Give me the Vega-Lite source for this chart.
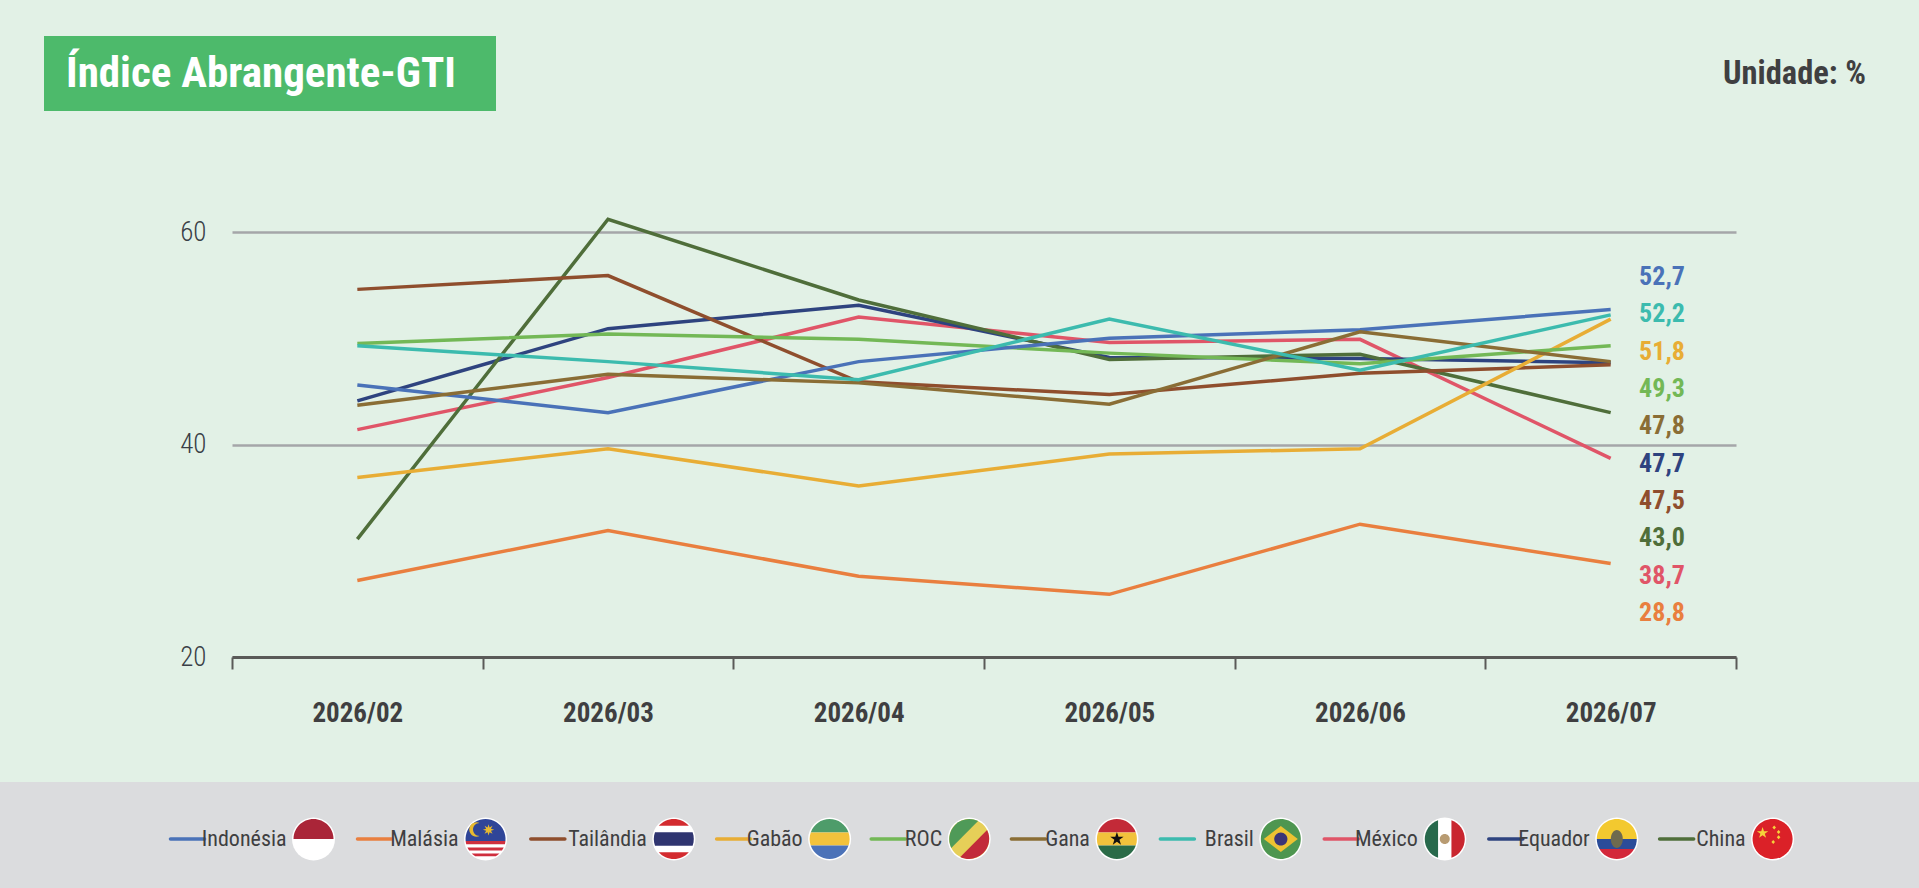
{
  "$schema": "https://vega.github.io/schema/vega-lite/v6.json",
  "autosize": {"type": "none"},
  "width": 1504,
  "height": 425,
  "padding": {"left": 232, "top": 232, "right": 183, "bottom": 231},
  "background": "#E2F1E6",
  "config": {"view": {"stroke": null}, "font": "Roboto Condensed, Roboto"},
  "datasets": {
    "indice": [
      {"mes": "2026/02", "pais": "Malásia", "valor": 27.2},
      {"mes": "2026/03", "pais": "Malásia", "valor": 31.9},
      {"mes": "2026/04", "pais": "Malásia", "valor": 27.6},
      {"mes": "2026/05", "pais": "Malásia", "valor": 25.9},
      {"mes": "2026/06", "pais": "Malásia", "valor": 32.5},
      {"mes": "2026/07", "pais": "Malásia", "valor": 28.8},
      {"mes": "2026/02", "pais": "México", "valor": 41.4},
      {"mes": "2026/03", "pais": "México", "valor": 46.3},
      {"mes": "2026/04", "pais": "México", "valor": 52.0},
      {"mes": "2026/05", "pais": "México", "valor": 49.6},
      {"mes": "2026/06", "pais": "México", "valor": 49.9},
      {"mes": "2026/07", "pais": "México", "valor": 38.7},
      {"mes": "2026/02", "pais": "Equador", "valor": 44.1},
      {"mes": "2026/03", "pais": "Equador", "valor": 50.9},
      {"mes": "2026/04", "pais": "Equador", "valor": 53.1},
      {"mes": "2026/05", "pais": "Equador", "valor": 48.2},
      {"mes": "2026/06", "pais": "Equador", "valor": 48.1},
      {"mes": "2026/07", "pais": "Equador", "valor": 47.7},
      {"mes": "2026/02", "pais": "China", "valor": 31.1},
      {"mes": "2026/03", "pais": "China", "valor": 61.2},
      {"mes": "2026/04", "pais": "China", "valor": 53.6},
      {"mes": "2026/05", "pais": "China", "valor": 48.0},
      {"mes": "2026/06", "pais": "China", "valor": 48.5},
      {"mes": "2026/07", "pais": "China", "valor": 43.0},
      {"mes": "2026/02", "pais": "Tailândia", "valor": 54.6},
      {"mes": "2026/03", "pais": "Tailândia", "valor": 55.9},
      {"mes": "2026/04", "pais": "Tailândia", "valor": 45.9},
      {"mes": "2026/05", "pais": "Tailândia", "valor": 44.7},
      {"mes": "2026/06", "pais": "Tailândia", "valor": 46.7},
      {"mes": "2026/07", "pais": "Tailândia", "valor": 47.5},
      {"mes": "2026/02", "pais": "Gabão", "valor": 36.9},
      {"mes": "2026/03", "pais": "Gabão", "valor": 39.6},
      {"mes": "2026/04", "pais": "Gabão", "valor": 36.1},
      {"mes": "2026/05", "pais": "Gabão", "valor": 39.1},
      {"mes": "2026/06", "pais": "Gabão", "valor": 39.6},
      {"mes": "2026/07", "pais": "Gabão", "valor": 51.8},
      {"mes": "2026/02", "pais": "ROC", "valor": 49.5},
      {"mes": "2026/03", "pais": "ROC", "valor": 50.4},
      {"mes": "2026/04", "pais": "ROC", "valor": 49.9},
      {"mes": "2026/05", "pais": "ROC", "valor": 48.6},
      {"mes": "2026/06", "pais": "ROC", "valor": 47.6},
      {"mes": "2026/07", "pais": "ROC", "valor": 49.3},
      {"mes": "2026/02", "pais": "Indonésia", "valor": 45.6},
      {"mes": "2026/03", "pais": "Indonésia", "valor": 43.0},
      {"mes": "2026/04", "pais": "Indonésia", "valor": 47.8},
      {"mes": "2026/05", "pais": "Indonésia", "valor": 50.0},
      {"mes": "2026/06", "pais": "Indonésia", "valor": 50.8},
      {"mes": "2026/07", "pais": "Indonésia", "valor": 52.7},
      {"mes": "2026/02", "pais": "Gana", "valor": 43.7},
      {"mes": "2026/03", "pais": "Gana", "valor": 46.6},
      {"mes": "2026/04", "pais": "Gana", "valor": 45.8},
      {"mes": "2026/05", "pais": "Gana", "valor": 43.8},
      {"mes": "2026/06", "pais": "Gana", "valor": 50.6},
      {"mes": "2026/07", "pais": "Gana", "valor": 47.8},
      {"mes": "2026/02", "pais": "Brasil", "valor": 49.3},
      {"mes": "2026/03", "pais": "Brasil", "valor": 47.8},
      {"mes": "2026/04", "pais": "Brasil", "valor": 46.1},
      {"mes": "2026/05", "pais": "Brasil", "valor": 51.8},
      {"mes": "2026/06", "pais": "Brasil", "valor": 47.0},
      {"mes": "2026/07", "pais": "Brasil", "valor": 52.2}
    ],
    "legenda": [
      {"pais": "Indonésia", "partes": ["Indonésia vermelho"]},
      {"pais": "Malásia", "partes": ["Malásia azul", "Malásia lua", "Malásia sol", "Malásia listra 1", "Malásia listra 2", "Malásia listra 3"]},
      {"pais": "Tailândia", "partes": ["Tailândia topo", "Tailândia meio", "Tailândia base"]},
      {"pais": "Gabão", "partes": ["Gabão verde", "Gabão amarelo", "Gabão azul"]},
      {"pais": "ROC", "partes": ["ROC amarelo", "ROC verde", "ROC vermelho"]},
      {"pais": "Gana", "partes": ["Gana vermelho", "Gana amarelo", "Gana verde", "Gana estrela"]},
      {"pais": "Brasil", "partes": ["Brasil verde", "Brasil losango", "Brasil globo"]},
      {"pais": "México", "partes": ["México verde", "México vermelho", "México brasão"]},
      {"pais": "Equador", "partes": ["Equador amarelo", "Equador azul", "Equador vermelho", "Equador brasão"]},
      {"pais": "China", "partes": ["China vermelho", "China estrela", "China estrelas"]}
    ]
  },
  "resolve": {"scale": {"x": "independent", "y": "independent"}},
  "layer": [
    {
      "data": {"values": [{"caixa": "rodape"}]},
      "mark": {"type": "rect", "fill": "#DBDCDE"},
      "encoding": {
        "x": {"field": "caixa", "type": "nominal", "axis": null, "scale": {"type": "band", "domain": ["rodape"], "range": [-232, 1687], "paddingInner": 0, "paddingOuter": 0}},
        "y": {"field": "caixa", "type": "nominal", "axis": null, "scale": {"type": "band", "domain": ["rodape"], "range": [550, 656], "paddingInner": 0, "paddingOuter": 0}}
      }
    },
    {
      "data": {"values": [{"caixa": "titulo"}]},
      "mark": {"type": "rect", "fill": "#4DBA6B"},
      "encoding": {
        "x": {"field": "caixa", "type": "nominal", "axis": null, "scale": {"type": "band", "domain": ["titulo"], "range": [-188, 264], "paddingInner": 0, "paddingOuter": 0}},
        "y": {"field": "caixa", "type": "nominal", "axis": null, "scale": {"type": "band", "domain": ["titulo"], "range": [-196, -121], "paddingInner": 0, "paddingOuter": 0}}
      }
    },
    {
      "data": {"values": [{"texto": "Índice Abrangente-GTI"}]},
      "mark": {"type": "text", "font": "Roboto Condensed, Roboto", "fontWeight": "bold", "fontSize": 43, "color": "#FFFFFF", "align": "center", "baseline": "middle"},
      "encoding": {
        "text": {"field": "texto"},
        "x": {"field": "texto", "type": "nominal", "axis": null, "scale": {"type": "band", "range": [-165, 223], "paddingInner": 0, "paddingOuter": 0}},
        "y": {"field": "texto", "type": "nominal", "axis": null, "scale": {"type": "band", "range": [-180, -136], "paddingInner": 0, "paddingOuter": 0}}
      }
    },
    {
      "data": {"values": [{"texto": "Unidade: %"}]},
      "mark": {"type": "text", "font": "Roboto Condensed, Roboto", "fontWeight": "bold", "fontSize": 32.5, "color": "#3F3F41", "align": "center", "baseline": "middle"},
      "encoding": {
        "text": {"field": "texto"},
        "x": {"field": "texto", "type": "nominal", "axis": null, "scale": {"type": "band", "range": [1491, 1634], "paddingInner": 0, "paddingOuter": 0}},
        "y": {"field": "texto", "type": "nominal", "axis": null, "scale": {"type": "band", "range": [-171, -145], "paddingInner": 0, "paddingOuter": 0}}
      }
    },
    {
      "data": {"name": "indice"},
      "mark": {"type": "line", "strokeWidth": 3.5, "strokeJoin": "miter"},
      "encoding": {
        "x": {
          "field": "mes",
          "type": "nominal",
          "title": null,
          "scale": {"type": "band", "paddingInner": 0, "paddingOuter": 0},
          "axis": {
            "bandPosition": 0.5,
            "tickBand": "extent",
            "labelAngle": 0,
            "labelFont": "Roboto Condensed, Roboto",
            "labelFontWeight": "bold",
            "labelFontSize": 27,
            "labelColor": "#3F3F41",
            "labelPadding": 31,
            "tickSize": 12,
            "tickWidth": 2,
            "tickColor": "#5A5A58",
            "domainColor": "#5A5A58",
            "domainWidth": 3,
            "grid": false
          }
        },
        "y": {
          "field": "valor",
          "type": "quantitative",
          "title": null,
          "scale": {"domain": [20, 60], "nice": false, "zero": false},
          "axis": {
            "values": [20, 40, 60],
            "domain": false,
            "ticks": false,
            "labelFont": "Roboto Condensed, Roboto",
            "labelFontSize": 27,
            "labelFontWeight": 300,
            "labelColor": "#3A3F47",
            "labelPadding": 26,
            "grid": true,
            "gridColor": "#A5A6A9",
            "gridWidth": 2.5
          }
        },
        "color": {
          "field": "pais",
          "type": "nominal",
          "legend": null,
          "scale": {
            "domain": ["Indonésia", "Malásia", "Tailândia", "Gabão", "ROC", "Gana", "Brasil", "México", "Equador", "China"],
            "range": ["#4A72B8", "#E97F3F", "#8F4E2D", "#E8AD35", "#73B856", "#8A6D35", "#3CBBAE", "#E05568", "#2E437F", "#4F6E3A"]
          }
        }
      }
    },
    {
      "data": {"name": "indice"},
      "transform": [
        {"filter": "datum.mes === '2026/07'"},
        {"calculate": "replace(format(datum.valor, '.1f'), '.', ',')", "as": "rotulo"}
      ],
      "mark": {"type": "text", "font": "Roboto Condensed, Roboto", "fontWeight": "bold", "fontSize": 26, "align": "center", "baseline": "middle"},
      "encoding": {
        "text": {"field": "rotulo"},
        "x": {"field": "mes", "type": "nominal", "axis": null, "scale": {"type": "band", "domain": ["2026/07"], "range": [1408, 1452], "paddingInner": 0, "paddingOuter": 0}},
        "y": {"field": "pais", "type": "nominal", "axis": null, "scale": {"type": "point", "domain": ["Indonésia", "Brasil", "Gabão", "ROC", "Gana", "Equador", "Tailândia", "China", "México", "Malásia"], "range": [45, 381], "padding": 0}},
        "color": {"field": "pais", "type": "nominal", "legend": null}
      }
    },
    {
      "data": {"name": "legenda"},
      "transform": [
        {"calculate": "length(datum.pais)", "as": "letras"},
        {"calculate": "datum.letras + 14.2", "as": "passo"},
        {"window": [{"op": "sum", "field": "passo", "as": "bandeira"}], "ignorePeers": true},
        {"calculate": "datum.bandeira - 5.1 - 0.925 * datum.letras", "as": "tracoFim"},
        {"calculate": "datum.tracoFim - 4.2", "as": "tracoInicio"}
      ],
      "encoding": {
        "y": {"datum": "legenda", "type": "nominal", "axis": null, "scale": {"type": "band", "domain": ["legenda"], "range": [552, 662], "paddingInner": 0, "paddingOuter": 0}}
      },
      "layer": [
        {
          "mark": {"type": "rule", "strokeWidth": 3.5, "strokeCap": "round"},
          "encoding": {
            "x": {"field": "tracoInicio", "type": "quantitative", "axis": null, "scale": {"domain": [23.2, 203], "range": [81.5, 1540.6], "nice": false, "zero": false}},
            "x2": {"field": "tracoFim"},
            "color": {"field": "pais", "type": "nominal", "legend": null}
          }
        },
        {
          "mark": {"type": "text", "font": "Roboto Condensed, Roboto", "fontSize": 22, "color": "#3F3F41", "align": "right", "baseline": "middle", "dx": -27},
          "encoding": {
            "text": {"field": "pais"},
            "x": {"field": "bandeira", "type": "quantitative", "axis": null}
          }
        },
        {
          "mark": {"type": "point", "shape": "circle", "filled": true, "fill": "#FFFFFF", "opacity": 1, "size": 1849, "strokeWidth": 0},
          "encoding": {
            "x": {"field": "bandeira", "type": "quantitative", "axis": null}
          }
        },
        {
          "transform": [{"flatten": ["partes"]}],
          "mark": {"type": "point", "filled": true, "opacity": 1, "size": 1600, "strokeWidth": 0},
          "encoding": {
            "x": {"field": "bandeira", "type": "quantitative", "axis": null},
            "shape": {
              "field": "partes",
              "type": "nominal",
              "legend": null,
              "scale": {
                "domain": ["Indonésia vermelho", "Malásia azul", "Malásia lua", "Malásia sol", "Malásia listra 1", "Malásia listra 2", "Malásia listra 3", "Tailândia topo", "Tailândia meio", "Tailândia base", "Gabão verde", "Gabão amarelo", "Gabão azul", "ROC amarelo", "ROC verde", "ROC vermelho", "Gana vermelho", "Gana amarelo", "Gana verde", "Gana estrela", "Brasil verde", "Brasil losango", "Brasil globo", "México verde", "México vermelho", "México brasão", "Equador amarelo", "Equador azul", "Equador vermelho", "Equador brasão", "China vermelho", "China estrela", "China estrelas"],
                "range": [
                  "M-1,0A1,1 0 0,1 1,0Z",
                  "M-.995,.1A1,1 0 1,1 .995,.1Z",
                  "M-.3,-.8A.36,.36 0 1,0 -.3,-.15A.3,.3 0 1,1 -.3,-.8Z",
                  "M.15,-.74L.2,-.58L.35,-.66L.27,-.51L.43,-.46L.27,-.41L.35,-.26L.2,-.34L.15,-.18L.1,-.34L-.05,-.26L.03,-.41L-.13,-.46L.03,-.51L-.05,-.66L.1,-.58Z",
                  "M-.995,.1A1,1 0 0,0 -.966,.26L.966,.26A1,1 0 0,0 .995,.1Z",
                  "M-.907,.42A1,1 0 0,0 -.822,.57L.822,.57A1,1 0 0,0 .907,.42Z",
                  "M-.694,.72A1,1 0 0,0 -.51,.86L.51,.86A1,1 0 0,0 .694,.72Z",
                  "M-.751,-.66A1,1 0 0,1 .751,-.66Z",
                  "M-.94,-.34A1,1 0 0,0 -.94,.34L.94,.34A1,1 0 0,0 .94,-.34Z",
                  "M.751,.66A1,1 0 0,1 -.751,.66Z",
                  "M-.944,-.33A1,1 0 0,1 .944,-.33Z",
                  "M-.944,-.33A1,1 0 0,0 -.944,.33L.944,.33A1,1 0 0,0 .944,-.33Z",
                  "M.944,.33A1,1 0 0,1 -.944,.33Z",
                  "M-1,0A1,1 0 1,1 1,0A1,1 0 1,1 -1,0Z",
                  "M-.895,.445A1,1 0 0,1 .445,-.895Z",
                  "M.895,-.445A1,1 0 0,1 -.445,.895Z",
                  "M-.944,-.33A1,1 0 0,1 .944,-.33Z",
                  "M-.944,-.33A1,1 0 0,0 -.944,.33L.944,.33A1,1 0 0,0 .944,-.33Z",
                  "M.944,.33A1,1 0 0,1 -.944,.33Z",
                  "M0,-.35L.079,-.108L.333,-.108L.127,.041L.206,.283L0,.134L-.206,.283L-.127,.041L-.333,-.108L-.079,-.108Z",
                  "M-1,0A1,1 0 1,1 1,0A1,1 0 1,1 -1,0Z",
                  "M-.85,0L0,-.65L.85,0L0,.65Z",
                  "M-.33,0A.33,.33 0 1,1 .33,0A.33,.33 0 1,1 -.33,0Z",
                  "M-.333,.943A1,1 0 0,1 -.333,-.943Z",
                  "M.333,-.943A1,1 0 0,1 .333,.943Z",
                  "M-.25,0A.25,.25 0 1,1 .25,0A.25,.25 0 1,1 -.25,0Z",
                  "M-1,0A1,1 0 0,1 1,0Z",
                  "M-1,0A1,1 0 0,0 -.866,.5L.866,.5A1,1 0 0,0 1,0Z",
                  "M.866,.5A1,1 0 0,1 -.866,.5Z",
                  "M-.3,0A.3,.45 0 1,1 .3,0A.3,.45 0 1,1 -.3,0Z",
                  "M-1,0A1,1 0 1,1 1,0A1,1 0 1,1 -1,0Z",
                  "M-.5,-.6L-.432,-.393L-.215,-.393L-.391,-.265L-.323,-.057L-.5,-.185L-.677,-.057L-.609,-.265L-.785,-.393L-.568,-.393Z",
                  "M.08,-.68L.17,-.58L.08,-.48L-.01,-.58ZM.3,-.45L.39,-.35L.3,-.25L.21,-.35ZM.3,-.19L.39,-.09L.3,.01L.21,-.09ZM.03,.05L.12,.15L.03,.25L-.06,.15Z"
                ]
              }
            },
            "fill": {
              "field": "partes",
              "type": "nominal",
              "legend": null,
              "scale": {
                "domain": ["Indonésia vermelho", "Malásia azul", "Malásia lua", "Malásia sol", "Malásia listra 1", "Malásia listra 2", "Malásia listra 3", "Tailândia topo", "Tailândia meio", "Tailândia base", "Gabão verde", "Gabão amarelo", "Gabão azul", "ROC amarelo", "ROC verde", "ROC vermelho", "Gana vermelho", "Gana amarelo", "Gana verde", "Gana estrela", "Brasil verde", "Brasil losango", "Brasil globo", "México verde", "México vermelho", "México brasão", "Equador amarelo", "Equador azul", "Equador vermelho", "Equador brasão", "China vermelho", "China estrela", "China estrelas"],
                "range": ["#AA2538", "#2F4598", "#E8B92F", "#E8B92F", "#CF2E3E", "#CF2E3E", "#CF2E3E", "#D32B2F", "#2F3570", "#D32B2F", "#4E9C6A", "#F2C23C", "#4B72B8", "#E6CF58", "#4F9A58", "#C22B3A", "#C32A38", "#F2C23C", "#2A6B47", "#111111", "#4E9650", "#EDC232", "#3B3577", "#27694C", "#C9262F", "#B89B72", "#F3C92F", "#2B4C99", "#D3273A", "#6E6A4E", "#DB2128", "#F5D33B", "#F5D33B"]
              }
            }
          }
        }
      ]
    }
  ]
}
